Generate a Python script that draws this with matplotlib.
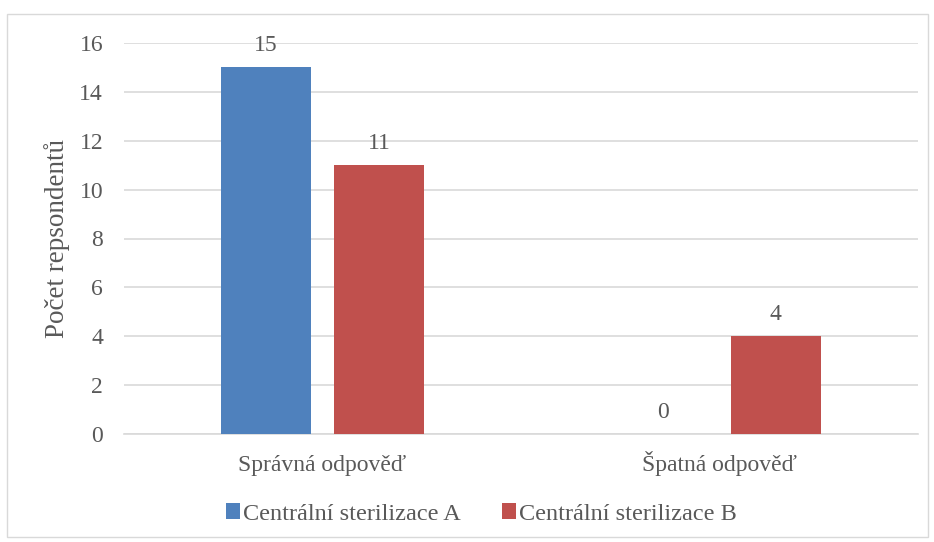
import numpy as np
import matplotlib
matplotlib.use("Agg")
import matplotlib.pyplot as plt
from matplotlib.patches import Rectangle

# data
categories = ["Správná odpověď", "Špatná odpověď"]
series_names = ["Centrální sterilizace A", "Centrální sterilizace B"]
values_a = [15, 0]
values_b = [11, 4]
colors = ["#4F81BD", "#C0504D"]
text_color = "#595959"

plt.rcParams["font.family"] = "serif"
plt.rcParams["font.serif"] = ["Liberation Serif", "DejaVu Serif"]

fig = plt.figure(figsize=(9.34, 5.42), dpi=100)
# plot area (Excel-like)
ax = fig.add_axes([124 / 934, 1 - 434 / 542, 794 / 934, 391 / 542])

x = np.arange(len(categories))
width = 0.227
offset = 0.142
bars_a = ax.bar(x - offset, values_a, width, color=colors[0], label=series_names[0], zorder=3)
bars_b = ax.bar(x + offset, values_b, width, color=colors[1], label=series_names[1], zorder=3)

fs = 17
for bars in (bars_a, bars_b):
    for b in bars:
        h = b.get_height()
        ax.annotate(str(int(h)), (b.get_x() + b.get_width() / 2, h),
                    xytext=(0, 8), textcoords="offset points",
                    ha="center", va="bottom", fontsize=fs, color=text_color)

ax.set_xlim(-0.5, 1.5)
ax.set_ylim(0, 16)
ax.set_yticks(range(0, 17, 2))
ax.yaxis.grid(True, color="#D9D9D9", linewidth=1.2, zorder=0)
ax.set_axisbelow(True)
for s in ["top", "right", "left"]:
    ax.spines[s].set_visible(False)
ax.spines["bottom"].set_color("#D9D9D9")
ax.spines["bottom"].set_linewidth(1.2)
ax.tick_params(axis="both", length=0, labelsize=fs, colors=text_color)
ax.tick_params(axis="y", pad=15)
ax.set_xticks(x)
ax.set_xticklabels([])
for xi, cat in zip(x, categories):
    ax.text(xi, -0.095, cat, transform=ax.get_xaxis_transform(), ha="center",
            va="baseline", fontsize=fs, color=text_color)
ax.set_ylabel("Počet repsondentů", fontsize=19.5, color=text_color, labelpad=7)

leg = fig.legend(handles=[bars_a, bars_b], labels=series_names, loc="center",
                 bbox_to_anchor=(481 / 934, 1 - 514 / 542), ncol=2, frameon=False,
                 fontsize=17.5, handlelength=0.6, handleheight=0.6, handletextpad=0.1,
                 columnspacing=1.7)
for t in leg.get_texts():
    t.set_color(text_color)

# chart border
fig.patches.append(Rectangle((7 / 934, 1 - 537 / 542), 921 / 934, 523 / 542,
                             transform=fig.transFigure, fill=False,
                             edgecolor="#D9D9D9", linewidth=1))

fig.savefig("out.png", dpi=100)
